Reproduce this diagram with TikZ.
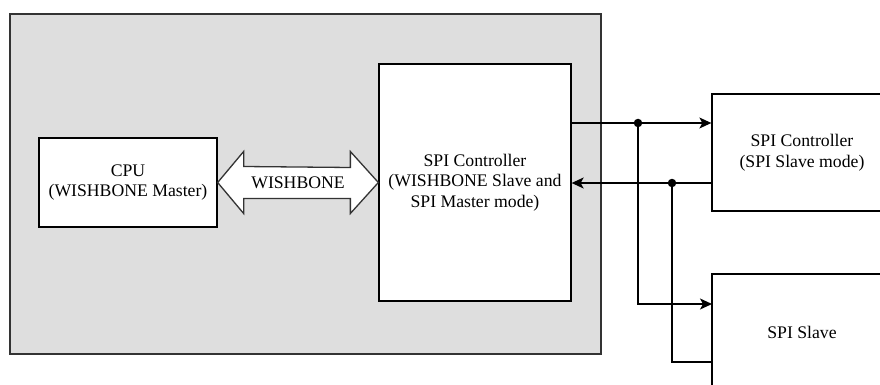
\documentclass[tikz,border=0pt]{standalone}
\usepackage{fontspec}
\setmainfont{Liberation Serif}
\usetikzlibrary{arrows.meta,calc}
\definecolor{bggray}{HTML}{DEDEDE}
\definecolor{edgec}{HTML}{333333}
\begin{document}
\begin{tikzpicture}[x=1pt,y=-1pt,
  txt/.style={font=\fontsize{17.7}{20.7}\selectfont, align=center},
  box/.style={draw=black, fill=white, line width=1.3pt, inner sep=0pt, txt},
  multi/.style={execute at begin node={\rule{0pt}{18pt}}},
  wire/.style={line width=1.3pt, draw=black},
  arr/.style={-{Stealth[length=12pt,width=11pt,inset=3pt]}},
  jdot/.style={circle, fill=black, inner sep=0pt, minimum size=8.5pt}]
\clip (0,0) rectangle (880,385);
\fill[white] (0,0) rectangle (880,385);
\node[draw=edgec, fill=bggray, line width=1.3pt, minimum width=591pt, minimum height=340pt, inner sep=0pt] (host) at (305.5,184) {};
\node[box, multi, minimum width=178pt, minimum height=89pt] (cpu) at (128,182.5) {CPU\\(WISHBONE Master)};
\node[box, multi, minimum width=192pt, minimum height=237pt] (spim) at (475,182.5) {SPI Controller\\(WISHBONE Slave and\\SPI Master mode)};
\node[box, multi, minimum width=180pt, minimum height=117pt] (sctl) at (802,152.5) {SPI Controller\\(SPI Slave mode)};
\node[box, minimum width=180pt, minimum height=116pt] (sslv) at (802,332) {SPI Slave};
% WISHBONE double arrow
\draw[line width=1.3pt, draw=edgec, fill=white, line join=miter]
  (cpu.east) -- ++(26,-31) -- ++(0,15) -- ($(spim.west)+(-28,-15)$) -- ++(0,-16)
  -- (spim.west) -- ++(-28,31) -- ++(0,-15) -- ($(cpu.east)+(26,16)$) -- ++(0,15) -- cycle;
\node[txt] (wbl) at ($(cpu.east)!0.5!(spim.west)$) {WISHBONE};
% SPI bus
\coordinate (j1) at (638,123);
\coordinate (j2) at (672,183);
\coordinate (sin) at (712,304);
\coordinate (sout) at (712,362);
\draw[wire,arr] (spim.east |- j1) -- (sctl.west |- j1);
\draw[wire,arr] (sctl.west |- j2) -- (spim.east |- j2);
\draw[wire,arr] (j1) |- (sin);
\draw[wire] (j2) |- (sout);
\node[jdot] (d1) at (j1) {};
\node[jdot] (d2) at (j2) {};
\end{tikzpicture}
\end{document}
